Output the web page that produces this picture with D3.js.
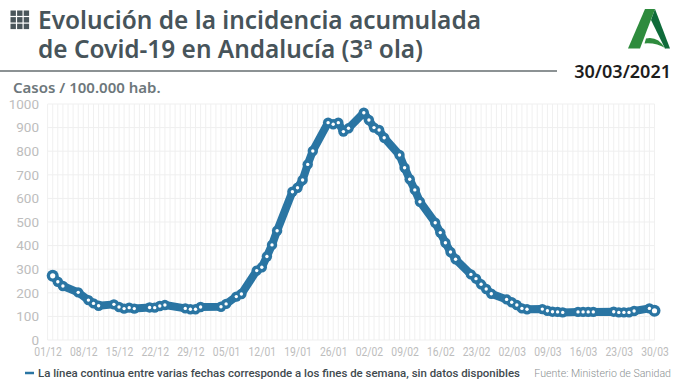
<!DOCTYPE html>
<html><head><meta charset="utf-8">
<script src="https://cdn.jsdelivr.net/npm/d3@7"></script>
<style>html,body{margin:0;padding:0;background:#fff}svg{display:block}</style>
</head><body><svg id="c" width="680" height="382"></svg>
<script>
// Days since 01/12/2020 for each published figure (weekends and holidays have no data)
const days = [1,2,3,6,8,9,10,13,14,15,16,17,20,21,22,23,27,28,29,30,34,35,37,38,41,42,43,44,45,48,49,50,51,52,55,56,57,58,59,62,63,64,65,66,69,70,71,72,73,76,77,78,79,80,83,84,85,86,87,90,91,92,93,94,97,98,99,100,101,104,105,106,107,111,112,113,114,115,118,119];
const incidence = [272,247,229,202,169,155,145,151,140,133,137,133,138,137,144,148,134,130,130,140,141,153,184,195,294,308,354,403,463,628,645,678,744,801,921,914,921,883,897,963,932,900,890,857,784,730,681,636,586,497,455,412,373,342,278,260,236,216,196,172,160,148,134,130,131,124,120,119,117,119,119,119,119,120,117,117,117,123,134,124];
const xTickDays = [0,7,14,21,28,35,42,49,56,63,70,77,84,91,98,105,112,119];
const xTickLabels = ["01/12","08/12","15/12","22/12","29/12","05/01","12/01","19/01","26/01","02/02","09/02","16/02","23/02","02/03","09/03","16/03","23/03","30/03"];
const yTicks = [0,100,200,300,400,500,600,700,800,900,1000];
const gridDays = d3.range(0,120);
const titleLines = ["Evolución de la incidencia acumulada","de Covid-19 en Andalucía (3ª ola)"];
const titleWidths = [443,385];

const svg = d3.select("#c");
const x = d3.scaleLinear().domain([0,119]).range([47.6,654.5]);
const y = d3.scaleLinear().domain([0,1000]).range([340,104]);
const BLUE="#2a75a3", TF='"Noto Sans","Open Sans",sans-serif', AF='Roboto,sans-serif';

// grid
svg.append("g").selectAll("line").data(gridDays).join("line")
  .attr("x1",d=>x(d)).attr("x2",d=>x(d)).attr("y1",y(1000)).attr("y2",y(0))
  .attr("stroke","#f0f0f0").attr("stroke-width",1);
svg.append("g").selectAll("line").data(yTicks).join("line")
  .attr("x1",x(0)).attr("x2",x(119)).attr("y1",d=>y(d)).attr("y2",d=>y(d))
  .attr("stroke","#efefef").attr("stroke-width",1);

// axes
const yAxis = d3.axisLeft(y).tickValues(yTicks).tickFormat(d3.format("d")).tickSize(0).tickPadding(0);
const gy = svg.append("g").attr("transform","translate(39,0)").call(yAxis);
const xAxis = d3.axisBottom(x).tickValues(xTickDays).tickFormat((d,i)=>xTickLabels[i]).tickSize(0).tickPadding(0);
const gx = svg.append("g").attr("transform","translate(0,347)").call(xAxis);
[gy,gx].forEach(g=>{g.select(".domain").remove();
  g.selectAll("text").attr("fill","#bdbdbd").style("font-family",AF).style("font-weight",400);});
gy.selectAll("text").style("font-size","13.5px");
gx.selectAll("text").style("font-size","12px").attr("dy","0.71em")
  .attr("textLength",27.5).attr("lengthAdjust","spacingAndGlyphs");

// series
const pts = days.map((d,i)=>({d,v:incidence[i]}));
const line = d3.line().x(p=>x(p.d)).y(p=>y(p.v));
const isEnd=(i)=>i===0||i===pts.length-1;
svg.append("path").datum(pts).attr("d",line).attr("fill","none").attr("stroke",BLUE)
  .attr("stroke-width",8).attr("stroke-linejoin","round");
svg.append("g").selectAll("circle").data(pts).join("circle")
  .attr("cx",p=>x(p.d)).attr("cy",p=>y(p.v)).attr("r",(p,i)=>isEnd(i)?6:5.2).attr("fill",BLUE);
svg.append("g").selectAll("circle").data(pts).join("circle")
  .attr("cx",p=>x(p.d)).attr("cy",p=>y(p.v)).attr("r",(p,i)=>isEnd(i)?2.6:1.7).attr("fill","#fff");

// header
const grid = svg.append("g").attr("fill","#4a565b");
d3.range(9).forEach(i=>grid.append("rect").attr("x",10.5+(i%3)*6.6).attr("y",10.5+Math.floor(i/3)*6.6).attr("width",5.4).attr("height",5.4));
svg.append("g").selectAll("text").data(titleLines).join("text")
  .attr("x",38).attr("y",(d,i)=>28.5+i*29).text(d=>d)
  .attr("textLength",(d,i)=>titleWidths[i]).attr("lengthAdjust","spacingAndGlyphs")
  .attr("fill","#47545a").style("font-family",TF).style("font-weight",600).style("font-size","26px");
svg.append("line").attr("x1",0).attr("x2",557).attr("y1",71).attr("y2",71).attr("stroke","#666e71").attr("stroke-width",1.6);
svg.append("text").attr("x",671).attr("y",77.5).attr("text-anchor","end").text("30/03/2021")
  .attr("fill","#1d1d1d").style("font-family",TF).style("font-weight",600).style("font-size","18px");
svg.append("text").attr("x",13).attr("y",93).text("Casos / 100.000 hab.")
  .attr("fill","#6d777b").style("font-family",TF).style("font-weight",600).style("font-size","15px");

// logo
svg.append("path").attr("d","M645,9 L655,9 L640,48.5 L628,48.5 Z").attr("fill","#2e8b3d");
svg.append("path").attr("d","M655,9 L670,48.5 L665,48.5 L651,20 Z").attr("fill","#0f6b3a");
svg.append("path").attr("d","M646,38.5 Q658,36 665,48.5 L670,48.5 L666,48.5 Q656,42.5 644.5,43.5 Z").attr("fill","#2e8b3d");

// footer
svg.append("line").attr("x1",25).attr("x2",34).attr("y1",373).attr("y2",373).attr("stroke",BLUE).attr("stroke-width",2.5);
svg.append("text").attr("x",38).attr("y",377).text("La línea continua entre varias fechas corresponde a los fines de semana, sin datos disponibles")
  .attr("fill","#3f4a4f").style("font-family",AF).style("font-weight",500).style("font-size","11.45px");
svg.append("text").attr("x",671).attr("y",377).attr("text-anchor","end").text("Fuente: Ministerio de Sanidad")
  .attr("fill","#8a8f91").style("font-family",AF).style("font-weight",300).style("font-size","10.6px");
</script></body></html>
